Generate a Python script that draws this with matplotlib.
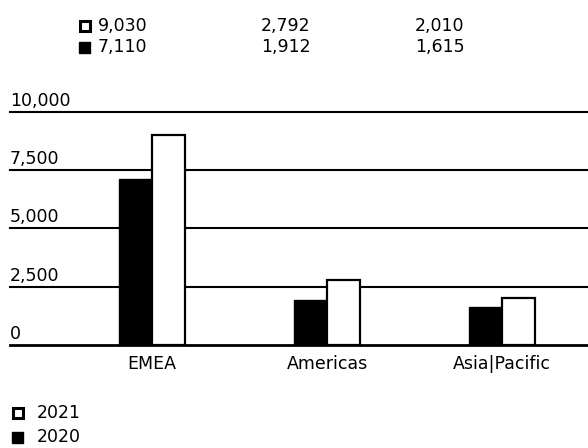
import numpy as np
import matplotlib.pyplot as plt

plt.rcParams['font.family'] = ['DejaVu Sans']

# data
regions = ['EMEA', 'Americas', 'Asia|Pacific']
sales_2020 = [7110, 1912, 1615]
sales_2021 = [9030, 2792, 2010]
year_labels = ['2021', '2020']
yticks = [0, 2500, 5000, 7500, 10000]

FS = 12.5

fig = plt.figure(figsize=(5.88, 4.48), dpi=100)
ax = fig.add_axes([10 / 588, 1 - 345 / 448, 578 / 588, 233 / 448])

x = np.arange(len(regions))
w = 0.19

# grid lines behind bars, tick labels sit on top of each line
for t in yticks:
    ax.axhline(t, color='black', lw=1.5 if t else 2.0, zorder=1, clip_on=False)
    ax.text(0, t + 90, f'{t:,}', transform=ax.get_yaxis_transform(),
            ha='left', va='bottom', fontsize=FS, color='black')

ax.bar(x - w / 2, sales_2020, width=w, color='black', edgecolor='black', lw=1, zorder=2)
ax.bar(x + w / 2, sales_2021, width=w, color='white', edgecolor='black', lw=1.6, zorder=2)

ax.set_xlim(-0.811, 2.491)
ax.set_ylim(0, 10000)
ax.set_xticks(x)
ax.set_xticklabels(regions, fontsize=FS)
ax.tick_params(length=0, pad=7, labelleft=False, left=False)
ax.set_yticks([])
for s in ax.spines.values():
    s.set_visible(False)

# value table on top
cols_x = [98, 261, 415]
for i, cx in enumerate(cols_x):
    fig.text(cx / 588, 1 - 26 / 448, f'{sales_2021[i]:,}', fontsize=FS, va='center', ha='left')
    fig.text(cx / 588, 1 - 47 / 448, f'{sales_2020[i]:,}', fontsize=FS, va='center', ha='left')
fig.patches.append(plt.Rectangle((80 / 588, 1 - 31 / 448), 10 / 588, 10 / 448, transform=fig.transFigure,
                                 facecolor='white', edgecolor='black', lw=2.2))
fig.patches.append(plt.Rectangle((79 / 588, 1 - 53 / 448), 11 / 588, 11 / 448, transform=fig.transFigure,
                                 facecolor='black', edgecolor='black', lw=1))

# legend at bottom
fig.patches.append(plt.Rectangle((13 / 588, 1 - 418 / 448), 10 / 588, 10 / 448, transform=fig.transFigure,
                                 facecolor='white', edgecolor='black', lw=2.2))
fig.patches.append(plt.Rectangle((12 / 588, 1 - 443 / 448), 11 / 588, 11 / 448, transform=fig.transFigure,
                                 facecolor='black', edgecolor='black', lw=1))
fig.text(37 / 588, 1 - 413 / 448, year_labels[0], fontsize=FS, va='center', ha='left')
fig.text(37 / 588, 1 - 437 / 448, year_labels[1], fontsize=FS, va='center', ha='left')

fig.savefig('out.png', dpi=100)
